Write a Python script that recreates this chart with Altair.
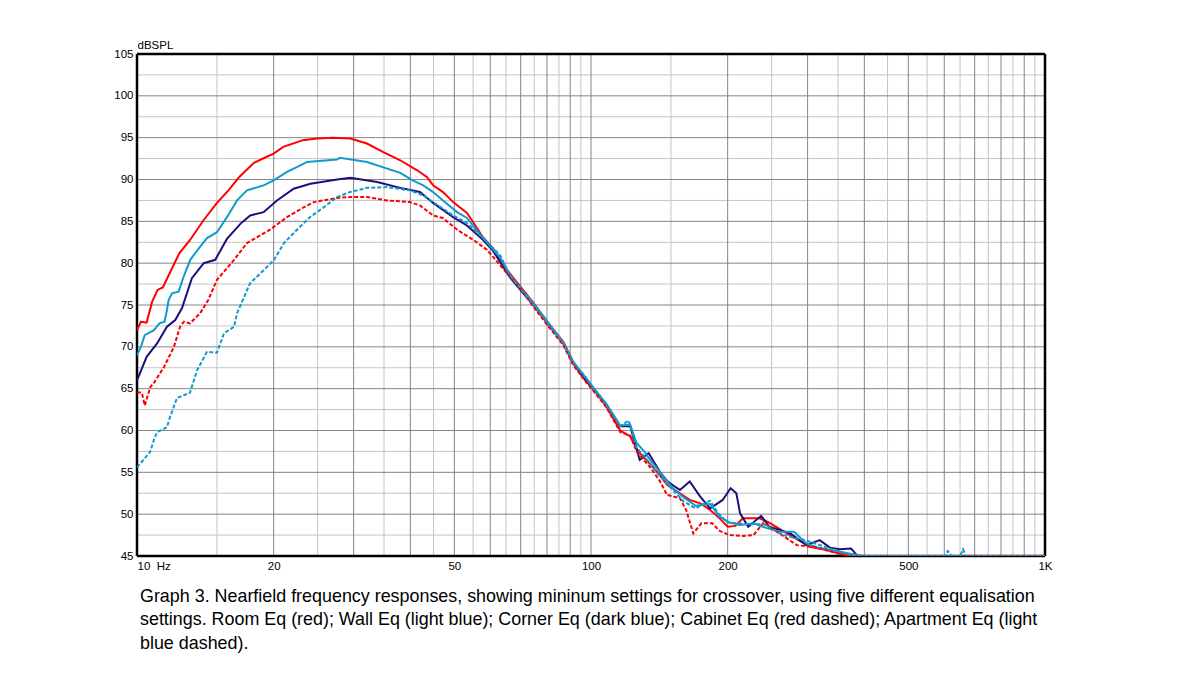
import altair as alt
import pandas as pd

# ---------------- data ----------------
room_f = [10, 10.2, 10.5, 10.8, 11.1, 11.4, 11.8, 12.4, 13.1, 14.0, 15.0, 15.9, 16.8, 18.1, 19.1,
          20.0, 21.0, 23.2, 24.9, 27.0, 29.5, 32.1, 34.8, 38.0, 41.4, 43.5, 44.9, 47.2, 49.7, 53.3,
          54.7, 57.8, 60.8, 65.3, 74.6, 81.2, 86.9, 91.4, 97.8, 101, 108, 116, 122, 127, 135, 142,
          147, 157, 165, 174, 183, 192, 200, 208, 216, 235, 247, 270, 304, 330, 366, 380, 1000]
room_db = [72.0, 73.0, 72.9, 75.4, 76.8, 77.1, 78.8, 81.2, 82.8, 85.1, 87.2, 88.7, 90.3, 92.0, 92.6,
           93.1, 93.9, 94.7, 94.9, 95.0, 94.9, 94.3, 93.3, 92.3, 91.1, 90.3, 89.3, 88.5, 87.3, 86.0,
           85.1, 83.1, 81.8, 79.2, 75.3, 72.6, 70.6, 68.2, 66.0, 65.0, 62.9, 60.0, 59.3, 57.5, 56.0, 54.6,
           53.5, 52.5, 51.7, 51.3, 50.5, 49.5, 48.5, 48.6, 49.5, 49.5, 49.0, 47.7, 46.1, 45.7, 45.1, 45.0, 45.0]

wall_f = [10, 10.2, 10.4, 10.9, 11.2, 11.5, 11.64, 11.74, 11.94, 12.35, 12.67, 13.1, 13.79, 14.26,
          15.0, 15.78, 16.61, 17.47, 19.0, 20.0, 21.4, 22.9, 23.7, 27.6, 28.0, 32.1, 38.0, 40.5,
          42.7, 44.9, 47.2, 50.7, 53.3, 57.0, 63.0, 66.3, 74.6, 81.2, 86.9, 91.4, 97, 101, 108, 116,
          122, 126, 131, 135, 142, 152, 160, 170, 183, 192, 202, 213, 228, 245, 260, 280, 298, 317,
          340, 370, 395, 1000]
wall_db = [69.0, 70.0, 71.4, 72.0, 72.8, 73.0, 74.4, 75.6, 76.4, 76.6, 78.4, 80.4, 82.0, 83.0,
           83.7, 85.5, 87.5, 88.7, 89.3, 89.9, 90.9, 91.7, 92.1, 92.4, 92.6, 92.1, 90.8, 89.9,
           89.3, 88.5, 87.5, 86.1, 85.4, 83.4, 80.7, 78.6, 75.2, 72.6, 70.5, 68.2, 66.4, 65.2, 63.2, 60.6,
           60.7, 58.5, 57.5, 56.5, 55.0, 53.0, 52.0, 51.0, 51.2, 49.7, 49.0, 48.7, 48.9, 48.3, 47.9, 47.9,
           46.5, 46.0, 45.7, 45.3, 45.0, 45.0]

corner_f = [10, 10.5, 11.07, 11.64, 12.14, 12.56, 13.21, 14.03, 14.87, 15.78, 16.89, 17.76, 19.0,
            20.34, 22.14, 24.1, 27.6, 29.5, 33.8, 38.0, 42.0, 44.9, 49.7, 53.3, 57.8, 60.8, 66.3,
            74.6, 81.2, 86.9, 91.4, 97.8, 101, 108, 116, 122, 128, 134, 142, 147, 152, 157, 165, 174,
            183, 195, 203, 209, 213, 222, 237, 247, 275, 298, 319, 336, 353, 374, 385, 395, 1000]
corner_db = [66.0, 68.8, 70.4, 72.4, 73.2, 74.6, 78.2, 80.0, 80.4, 82.9, 84.7, 85.7, 86.1,
             87.5, 88.9, 89.5, 90.0, 90.2, 89.7, 89.0, 88.5, 87.2, 85.5, 84.5, 82.8, 81.5, 78.3,
             75.0, 72.4, 70.4, 68.0, 65.8, 65.0, 63.2, 60.5, 60.5, 56.5, 57.3, 55.0, 54.0, 53.4, 52.9, 53.9, 52.1,
             50.7, 51.7, 53.1, 52.5, 50.1, 48.5, 49.8, 48.5, 47.7, 46.3, 46.9, 46.0, 45.8, 45.9, 45.1, 45.0, 45.0]

cabinet_f = [10, 10.25, 10.4, 10.7, 10.9, 11.47, 12.06, 12.44, 12.69, 13.08, 13.77, 14.35, 15.0,
             16.36, 17.47, 19.63, 21.4, 23.33, 24.54, 27.6, 29.5, 32.1, 35.5, 39.9, 42.0, 44.9, 47.2,
             50.7, 55.0, 59.0, 65.3, 69.8, 74.6, 81.2, 86.9, 91.4, 97.8, 101, 108, 116, 122, 126, 135,
             142, 147, 157, 162, 168, 175, 185, 192, 202, 215, 228, 240, 255, 284, 315, 350, 372, 1000]
cabinet_db = [64.6, 64.5, 63.0, 65.2, 65.7, 67.6, 70.0, 72.4, 73.0, 72.8, 74.0, 75.6, 78.0,
              80.4, 82.4, 84.0, 85.5, 86.7, 87.3, 87.8, 87.9, 87.9, 87.5, 87.3, 86.9, 85.7, 85.4,
              84.0, 82.8, 81.6, 78.8, 77.1, 74.8, 72.2, 70.2, 67.8, 65.7, 64.8, 62.8, 59.8, 59.4, 57.5, 55.6,
              53.9, 52.3, 51.9, 50.5, 47.7, 48.9, 48.9, 48.0, 47.5, 47.4, 47.5, 49.0, 48.0, 46.3, 46.0, 45.3, 45.0, 45.0]

apart_f = [10, 10.68, 10.9, 11.07, 11.64, 11.82, 12.25, 13.08, 13.56, 14.26, 15.0, 15.54, 16.36,
           16.61, 17.74, 19.05, 20.03, 21.08, 22.51, 24.04, 25.82, 27.57, 29.45, 32.1, 35.5, 39.9,
           42.7, 44.9, 49.7, 53.3, 57.8, 63.0, 66.3, 74.6, 81.2, 86.9, 91.4, 97, 101, 108, 116, 121,
           126, 135, 142, 152, 160, 170, 178, 183, 190, 200, 220, 240, 265, 300, 340, 380, 600, 611,
           622, 650, 660, 670, 1000]
apart_db = [55.6, 57.4, 58.9, 59.8, 60.4, 61.6, 63.9, 64.5, 67.2, 69.4, 69.3, 71.6, 72.4,
            74.0, 77.6, 79.2, 80.4, 82.4, 84.0, 85.5, 86.7, 87.9, 88.5, 89.0, 89.1, 88.7,
            88.1, 87.3, 85.7, 84.8, 83.0, 81.0, 78.5, 75.1, 72.5, 70.5, 68.1, 66.5, 65.1, 63.1, 60.5, 61.2,
            58.0, 56.0, 54.5, 52.8, 51.5, 50.7, 51.3, 51.6, 50.2, 49.0, 48.8, 48.8, 47.5, 46.8, 45.8, 45.0, 45.0, 45.6,
            45.0, 45.0, 45.8, 45.0, 45.0]

x_ticks = [10, 20, 50, 100, 200, 500, 1000]
y_ticks = [45, 50, 55, 60, 65, 70, 75, 80, 85, 90, 95, 100, 105]
grid_major_x = [20, 30, 40, 50, 60, 70, 80, 90, 100, 200, 300, 400, 500, 600, 700, 800, 900]
grid_minor_x = [15, 25, 35, 45, 55, 65, 75, 85, 95, 150, 250, 350, 450, 550, 650, 750, 850, 950]
grid_major_y = [50, 55, 60, 65, 70, 75, 80, 85, 90, 95, 100]
grid_minor_y = [47.5, 52.5, 57.5, 62.5, 67.5, 72.5, 77.5, 82.5, 87.5, 92.5, 97.5, 102.5]
frame_x = [10, 1000]
frame_y = [45, 105]

caption = [
    "Graph 3. Nearfield frequency responses, showing mininum settings for crossover, using five different equalisation",
    "settings. Room Eq (red); Wall Eq (light blue); Corner Eq (dark blue); Cabinet Eq (red dashed); Apartment Eq (light",
    "blue dashed).",
]

# ---------------- chart ----------------
FONT = "Liberation Sans"
xscale = alt.Scale(type="log", domain=[10, 1000], nice=False)
yscale = alt.Scale(domain=[45, 105], nice=False, zero=False)

xaxis = alt.Axis(
    values=x_ticks, ticks=False, domain=False, grid=False, title=None,
    labelExpr="datum.value == 10 ? '10\u00a0\u00a0Hz' : (datum.value == 1000 ? '1K' : format(datum.value, 'd'))",
    labelAlign={"condition": {"test": "datum.value == 10", "value": "left"}, "value": "center"},
    labelFont=FONT, labelFontSize=11.5, labelColor="black", labelPadding=4, labelFlush=False,
    labelOverlap=False,
)
yaxis = alt.Axis(
    values=y_ticks, ticks=False, domain=False, grid=False, title="dBSPL",
    titleAngle=0, titleAlign="left", titleBaseline="bottom", titleX=0, titleY=-4,
    titleFont=FONT, titleFontSize=11.5, titleFontWeight="normal", titleColor="black",
    labelFont=FONT, labelFontSize=11.5, labelColor="black", labelPadding=4, labelFlush=False,
    labelOverlap=False,
)


def X():
    return alt.X("freq:Q", scale=xscale, axis=xaxis)


def Y():
    return alt.Y("db:Q", scale=yscale, axis=yaxis)


layers = []
layers.append(alt.Chart(pd.DataFrame({"freq": grid_minor_x})).mark_rule(color="#c4c4c4", strokeWidth=1).encode(x=X()))
layers.append(alt.Chart(pd.DataFrame({"db": grid_minor_y})).mark_rule(color="#c4c4c4", strokeWidth=1).encode(y=Y()))
layers.append(alt.Chart(pd.DataFrame({"freq": grid_major_x})).mark_rule(color="#858585", strokeWidth=1).encode(x=X()))
layers.append(alt.Chart(pd.DataFrame({"db": grid_major_y})).mark_rule(color="#858585", strokeWidth=1).encode(y=Y()))

# plot frame (thick black border), drawn beneath the curves
layers.append(alt.Chart(pd.DataFrame({"freq": frame_x})).mark_rule(color="black", strokeWidth=2.5).encode(x=X()))
layers.append(alt.Chart(pd.DataFrame({"db": frame_y})).mark_rule(color="black", strokeWidth=2.5).encode(y=Y()))

series = [
    (room_f, room_db, "#ff0000", None),
    (corner_f, corner_db, "#1c0e80", None),
    (wall_f, wall_db, "#129bca", None),
    (cabinet_f, cabinet_db, "#ff0000", [4, 2]),
    (apart_f, apart_db, "#129bca", [4, 2]),
]
for f, db, col, dash in series:
    df = pd.DataFrame({"freq": f, "db": db})
    kw = dict(color=col, strokeWidth=2, clip=True, interpolate="linear")
    if dash:
        kw["strokeDash"] = dash
    layers.append(alt.Chart(df).mark_line(**kw).encode(x=X(), y=Y(), order=alt.Order("freq:Q")))

chart = alt.layer(*layers).properties(
    width=908,
    height=502,
    autosize=alt.AutoSizeParams(type="none"),
    padding={"left": 129, "top": 46, "right": 147, "bottom": 111},
    title=alt.TitleParams(
        text=caption, orient="bottom", anchor="start", frame="group",
        font=FONT, fontSize=17.9, fontWeight="normal", color="black",
        lineHeight=23.5, offset=16, dx=3, baseline="top",
    ),
).configure_view(stroke=None).configure(background="white")

chart.save("out.html", embed_options={"renderer": "svg", "actions": False})
